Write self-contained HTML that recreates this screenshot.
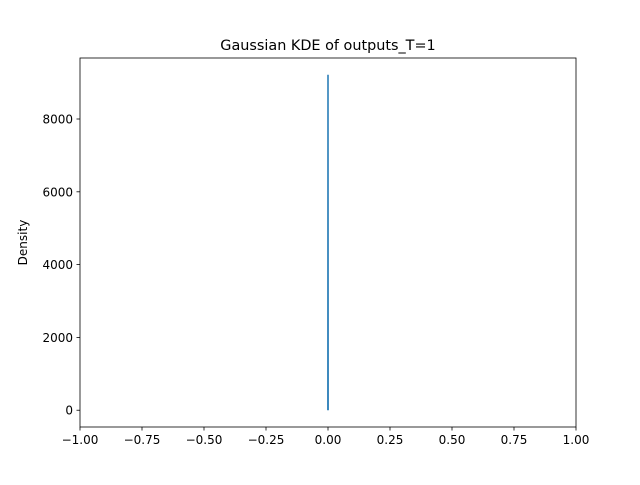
<!DOCTYPE html>
<html><head><meta charset="utf-8"><style>
html,body{margin:0;padding:0;background:#fff;}
svg text{font-family:"DejaVu Sans","Liberation Sans",sans-serif;}
</style></head><body>
<svg id="chart" width="640" height="480" viewBox="0 0 640 480">
<rect x="0" y="0" width="640" height="480" fill="#fff"/>
<text x="328" y="50" font-size="14.4" text-anchor="middle" fill="#000">Gaussian KDE of outputs_T=1</text>
<text transform="translate(27,242.5) rotate(-90)" font-size="12" text-anchor="middle" fill="#000">Density</text>
<g id="plot"></g>
</svg>
<script>
const xTicks = [-1, -0.75, -0.5, -0.25, 0, 0.25, 0.5, 0.75, 1];
const xTickLabels = ["\u22121.00","\u22120.75","\u22120.50","\u22120.25","0.00","0.25","0.50","0.75","1.00"];
const yTicks = [0, 2000, 4000, 6000, 8000];
const yTickLabels = ["0","2000","4000","6000","8000"];
const xs = [-0.0005, 0, 0.0005];
const ys = [0, 9215, 0];

const L=80,R=576,T=58,B=427;
const xMin=-1,xMax=1;
const yMax=Math.max(...ys), yMinD=Math.min(...ys);
const pad=(yMax-yMinD)*0.05;
const yLo=yMinD-pad, yHi=yMax+pad;
const sx=v=>L+(v-xMin)/(xMax-xMin)*(R-L);
const sy=v=>B-(v-yLo)/(yHi-yLo)*(B-T);
const NS="http://www.w3.org/2000/svg";
const g=document.getElementById('plot');
function mk(tag,attrs){const e=document.createElementNS(NS,tag);for(const k in attrs)e.setAttribute(k,attrs[k]);g.appendChild(e);return e;}

let pts=xs.map((x,i)=>sx(x).toFixed(2)+','+sy(ys[i]).toFixed(2)).join(' ');
const line=mk('polyline',{points:pts,fill:'none',stroke:'#1f77b4','stroke-width':1.5});



xTicks.forEach((v,i)=>{
  const t=mk('line',{x1:sx(v),x2:sx(v),y1:B,y2:B+3.5,stroke:'#000','stroke-width':0.8});
  
  
  const l=mk('text',{x:sx(v),y:B+17,'font-size':12,'text-anchor':'middle',fill:'#000'});
  l.textContent=xTickLabels[i];
  
  
});
yTicks.forEach((v,i)=>{
  const t=mk('line',{x1:L-3.5,x2:L,y1:sy(v),y2:sy(v),stroke:'#000','stroke-width':0.8});
  
  
  const l=mk('text',{x:L-7,y:sy(v)+4.5,'font-size':12,'text-anchor':'end',fill:'#000'});
  l.textContent=yTickLabels[i];
  
  
});
const frame=mk('rect',{x:L,y:T,width:R-L,height:B-T,fill:'none',stroke:'#000','stroke-width':0.8});


</script>
</body></html>
